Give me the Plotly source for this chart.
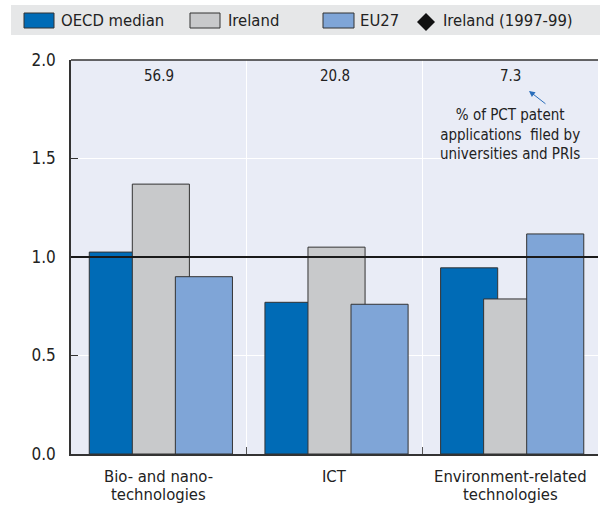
import plotly.graph_objects as go

# ---------------- data ----------------
categories = ["Bio- and nano-<br>technologies", "ICT", "Environment-related<br>technologies"]
oecd_median = [1.025, 0.77, 0.945]
ireland = [1.37, 1.05, 0.787]
eu27 = [0.90, 0.76, 1.117]
pct_share_labels = ["56.9", "20.8", "7.3"]
y_tick_vals = [0.0, 0.5, 1.0, 1.5, 2.0]
y_tick_text = ["0.0", "0.5", "1.0", "1.5", "2.0"]
legend_names = ["OECD median", "Ireland", "EU27", "Ireland (1997-99)"]
note_text = "% of PCT patent<br>applications  filed by<br>universities and PRIs"

# ---------------- styling ----------------
W, H = 600, 506
L, R, T, B = 71, 598, 60, 454
FONT = "DejaVu Sans Condensed, Liberation Sans Narrow, sans-serif"
C_OECD = "#006BB6"
C_IRL = "#C8C9CB"
C_EU = "#7FA5D7"
EDGE = "#333333"
TXT = "#222222"


def px(x):
    return (x - L) / (R - L)


def py(y):
    return (B - y) / (B - T)


fig = go.Figure()
bar_w = 0.325
offsets = [-0.396, -0.151, 0.094]
for vals, col, name, off in zip([oecd_median, ireland, eu27], [C_OECD, C_IRL, C_EU], legend_names[:3], offsets):
    fig.add_trace(go.Bar(
        x=categories, y=vals, name=name,
        marker=dict(color=col, line=dict(color=EDGE, width=1)),
        width=bar_w, offset=off, showlegend=False,
    ))

shapes = []
# reference line at 1.0
shapes.append(dict(type="line", xref="paper", yref="y", x0=0, x1=1, y0=1.0, y1=1.0,
                   line=dict(color="#1a1a1a", width=2)))
# top border
shapes.append(dict(type="line", xref="paper", yref="paper", x0=0, x1=1, y0=1, y1=1,
                   line=dict(color=EDGE, width=1.5)))
# legend band
shapes.append(dict(type="rect", xref="paper", yref="paper", x0=px(11), x1=px(600), y0=py(35), y1=py(5),
                   fillcolor="#E6E7E8", line=dict(width=0), layer="below"))
# legend swatches
for (x0, x1), col in zip([(24, 54), (190, 220), (323, 354)], [C_OECD, C_IRL, C_EU]):
    shapes.append(dict(type="rect", xref="paper", yref="paper", x0=px(x0), x1=px(x1), y0=py(28), y1=py(13),
                       fillcolor=col, line=dict(color=EDGE, width=1)))
# diamond
cx, cy, r = 426, 22, 9
path = "M {} {} L {} {} L {} {} L {} {} Z".format(px(cx - r), py(cy), px(cx), py(cy - r), px(cx + r), py(cy), px(cx), py(cy + r))
shapes.append(dict(type="path", xref="paper", yref="paper", path=path, fillcolor="#111111", line=dict(width=0)))

annotations = []
for (x0, name) in zip([59, 226, 358, 441], legend_names):
    annotations.append(dict(x=px(x0), y=py(21), xref="paper", yref="paper", text=name, showarrow=False,
                            xanchor="left", yanchor="middle", font=dict(family=FONT, size=16.5, color=TXT)))
for cat, lab in zip(categories, pct_share_labels):
    annotations.append(dict(x=cat, y=1.92, xref="x", yref="y", text=lab, showarrow=False,
                            font=dict(family=FONT, size=15, color=TXT)))
# category labels (one annotation per line for tight line spacing)
for cat in categories:
    for i, line in enumerate(cat.split("<br>")):
        annotations.append(dict(x=cat, y=py(477 + 18 * i), xref="x", yref="paper", text=line,
                                showarrow=False, yanchor="middle",
                                font=dict(family=FONT, size=16.5, color=TXT)))
annotations.append(dict(x=2.0, y=1.62, xref="x", yref="y", text=note_text, showarrow=False,
                        font=dict(family=FONT, size=15, color=TXT)))
annotations.append(dict(x=2.107, y=1.843, xref="x", yref="y", ax=18, ay=14, text="", showarrow=True,
                        arrowhead=2, arrowsize=1.2, arrowwidth=1, arrowcolor="#2A6EBB"))

fig.update_layout(
    width=W, height=H,
    margin=dict(l=L, r=W - R, t=T, b=H - B),
    barmode="overlay",
    plot_bgcolor="#E9ECF6", paper_bgcolor="white",
    font=dict(family=FONT, size=16.5, color=TXT),
    shapes=shapes, annotations=annotations,
    showlegend=False,
    xaxis=dict(type="category", range=[-0.5, 2.5], tickson="boundaries", ticks="inside", ticklen=7,
               tickcolor="#555555", showgrid=True, gridcolor="white", gridwidth=1.2,
               showline=True, linecolor=EDGE, linewidth=1.5, showticklabels=False, automargin=False),
    yaxis=dict(range=[0, 2], tickvals=y_tick_vals, ticktext=y_tick_text, ticks="inside", ticklen=7,
               tickcolor=EDGE, showgrid=True, gridcolor="white", gridwidth=1.2, zeroline=False,
               showline=True, linecolor=EDGE, linewidth=1.5, tickfont=dict(size=17),
               ticklabelstandoff=10, automargin=False),
)

fig.write_html("out.html", config={"displayModeBar": False},
               post_script="document.body.style.margin='0';")
